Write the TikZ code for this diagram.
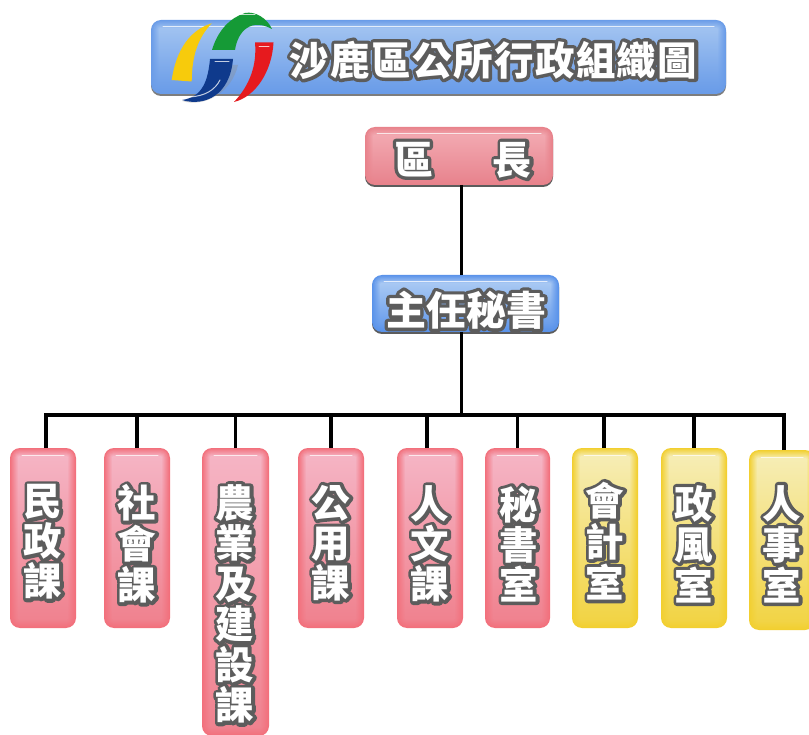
\documentclass[tikz,border=0pt]{standalone}
\usepackage{fontspec}
\newfontfamily\cjkw{Noto Sans CJK TC}
\newfontfamily\cjkh[BoldFeatures={FakeBold=17}]{Noto Sans CJK TC}
\newfontfamily\cjkts[LetterSpace=3.6]{Noto Sans CJK TC}
\newfontfamily\cjkth[LetterSpace=3.6,BoldFeatures={FakeBold=17}]{Noto Sans CJK TC}
\definecolor{halo}{HTML}{5C5C5C}
\definecolor{redE}{HTML}{F2707C}\definecolor{redT}{HTML}{F5B4C4}\definecolor{redB}{HTML}{F0828F}
\definecolor{darkrE}{HTML}{E8828B}\definecolor{darkrT}{HTML}{F2A8B0}\definecolor{darkrB}{HTML}{E98892}
\definecolor{bluE}{HTML}{5A93EA}\definecolor{bluT}{HTML}{A8C8F3}\definecolor{bluB}{HTML}{6A9EEC}
\definecolor{titE}{HTML}{6A9CE8}\definecolor{titT}{HTML}{A0C2F0}\definecolor{titB}{HTML}{6E9FE9}
\definecolor{yelE}{HTML}{F2CF30}\definecolor{yelT}{HTML}{F6EDB4}\definecolor{yelB}{HTML}{F2D445}
\definecolor{logoY}{HTML}{F7CB0C}\definecolor{logoG}{HTML}{159A36}\definecolor{logoB}{HTML}{0F3A8C}\definecolor{logoR}{HTML}{E61A1E}
\tikzset{
  gboxbase/.style={rounded corners=10pt,inner sep=0pt,outer sep=0pt,draw=none},
  halotxt/.style={inner sep=0pt,outer sep=0pt,align=center,text=halo},
  whitetxt/.style={inner sep=0pt,outer sep=0pt,align=center,text=white},
  conn/.style={draw=black,line width=3.8pt,line cap=butt,line join=miter},
  gloss/.style={draw=white,line width=1pt,opacity=.75,line cap=round}
}
% name x1 y1 x2 y2 edge top bottom shadowcolour
\newcommand{\gbox}[9]{%
  \pgfmathsetmacro{\cxv}{(#2+#4)/2}\pgfmathsetmacro{\cyv}{(#3+#5)/2}%
  \pgfmathsetmacro{\wv}{#4-#2}\pgfmathsetmacro{\hv}{#5-#3}%
  \fill[#9,rounded corners=10pt] (#2,#3+2) rectangle (#4,#5+2);
  \node[gboxbase,fill=#6,minimum width=\wv pt,minimum height=\hv pt] (#1) at (\cxv,\cyv) {};
  \foreach \i/\p in {1/12,2/25,3/37,4/50,5/62,6/75,7/87,8/100}{%
    \pgfmathsetmacro{\rv}{max(10-\i*1.1,1)}%
    \shade[top color=#7!\p!#6,bottom color=#8!\p!#6,rounded corners=\rv pt] (#2+\i,#3+\i) rectangle (#4-\i,#5-\i);
  }
  \draw[gloss] (#2+12,#3+7) -- (#4-12,#3+7);
}
% name x y size pitch text
\newcommand{\htext}[6]{%
  \node[halotxt,font={\pgfsetroundjoin\fontsize{#4}{#5}\cjkh\bfseries}] (#1h) at (#2,#3) {\pgfsetroundjoin #6};
  \node[whitetxt,font={\fontsize{#4}{#5}\cjkw\bfseries}] (#1t) at (#2,#3) {#6};
}
\begin{document}
\begin{tikzpicture}[x=1pt,y=-1pt]
\useasboundingbox (0,0) rectangle (809,735);
\fill[white] (0,0) rectangle (809,735);
\begin{scope}
\clip (0,0) rectangle (809,735);
\gbox{title}{151}{20}{726}{94}{titE}{titT}{titB}{halo!80}
\gbox{chief}{365}{127}{553}{185}{darkrE}{darkrT}{darkrB}{halo}
\gbox{sec}{372}{275}{559}{332}{bluE}{bluT}{bluB}{halo}
\gbox{b1}{10}{448}{76}{628}{redE}{redT}{redB}{white}
\gbox{b2}{104}{448}{170}{628}{redE}{redT}{redB}{white}
\gbox{b3}{202}{448}{269}{736}{redE}{redT}{redB}{white}
\gbox{b4}{298}{448}{364}{628}{redE}{redT}{redB}{white}
\gbox{b5}{397}{448}{463}{628}{redE}{redT}{redB}{white}
\gbox{b6}{485}{448}{550}{628}{redE}{redT}{redB}{white}
\gbox{b7}{572}{448}{638}{628}{yelE}{yelT}{yelB}{white}
\gbox{b8}{661}{448}{727}{628}{yelE}{yelT}{yelB}{white}
\gbox{b9}{749}{450}{815}{630}{yelE}{yelT}{yelB}{white}
\end{scope}
% connectors
\coordinate (bus) at (461.5,415);
\draw[conn] (chief.south -| bus) -- (sec.north -| bus);
\draw[conn] (sec.south -| bus) -- (bus);
\draw[conn] ([xshift=3pt]b1.north) |- (bus);
\draw[conn] (b2.north) -- (b2.north |- bus);
\draw[conn] (b3.north) -- (b3.north |- bus);
\draw[conn] (b4.north) -- (b4.north |- bus);
\draw[conn] ([xshift=-3pt]b5.north) -- ([xshift=-3pt]b5.north |- bus);
\draw[conn] (b6.north) -- (b6.north |- bus);
\draw[conn] ([xshift=-1pt]b7.north) -- ([xshift=-1pt]b7.north |- bus);
\draw[conn] (b8.north) -- (b8.north |- bus);
\draw[conn] ([xshift=2pt]b9.north) |- (bus);
% logo
\fill[black!45,opacity=.35] (182,101) .. controls (205,108) and (232,92) .. (238,65) -- (215,65) .. controls (212,85) and (200,95) .. (182,101) -- cycle;
\fill[logoY] (211.7,23.3) .. controls (190,30) and (176,50) .. (171.7,80) -- (191.7,81.5) .. controls (192,55) and (198,38) .. (211.7,23.3) -- cycle;
\fill[logoG] (212,50) .. controls (218,30) and (230,18) .. (245,13) .. controls (255,11) and (267,18) .. (272,29) .. controls (252,18) and (238,30) .. (235,50) -- cycle;
\fill[logoB] (210,59) -- (233,59) .. controls (230,95) and (205,107) .. (182,100) .. controls (203,97) and (208,80) .. (210,59) -- cycle;
\fill[logoR] (255,42.5) -- (273.5,42.5) .. controls (272,72) and (255,97) .. (234,102) .. controls (250,85) and (257,65) .. (255,42.5) -- cycle;
\draw[gloss] (259,47) -- (269,47);
\draw[gloss] (215,62) -- (229,62);
\draw[gloss] (190,97) .. controls (205,96) and (215,90) .. (220,80);
\draw[gloss] (240,15) -- (255,15);
% text
\node[halotxt,font={\fontsize{39.5}{44}\cjkth\bfseries}] (titleh) at (493.5,60) {\pgfsetroundjoin 沙鹿區公所行政組織圖};
\node[whitetxt,font={\fontsize{39.5}{44}\cjkts\bfseries}] (titlet) at (493.5,60) {沙鹿區公所行政組織圖};
\htext{chief}{463}{160}{39}{44}{區\hspace{60pt}長}
\htext{sec}{466}{310}{40}{44}{主任秘書}
\htext{b1}{43}{542}{38.5}{40}{民\\政\\課}
\htext{b2}{137}{544}{38.5}{41}{社\\會\\課}
\htext{b3}{235}{604}{38.5}{40.5}{農\\業\\及\\建\\設\\課}
\htext{b4}{331}{543}{38.5}{40}{公\\用\\課}
\htext{b5}{430}{544}{38.5}{40}{人\\文\\課}
\htext{b6}{519}{544}{38.5}{40}{秘\\書\\室}
\htext{b7}{605}{541}{38.5}{41}{會\\計\\室}
\htext{b8}{694}{544}{38.5}{41}{政\\風\\室}
\htext{b9}{782}{544}{38.5}{41}{人\\事\\室}
\end{tikzpicture}
\end{document}
